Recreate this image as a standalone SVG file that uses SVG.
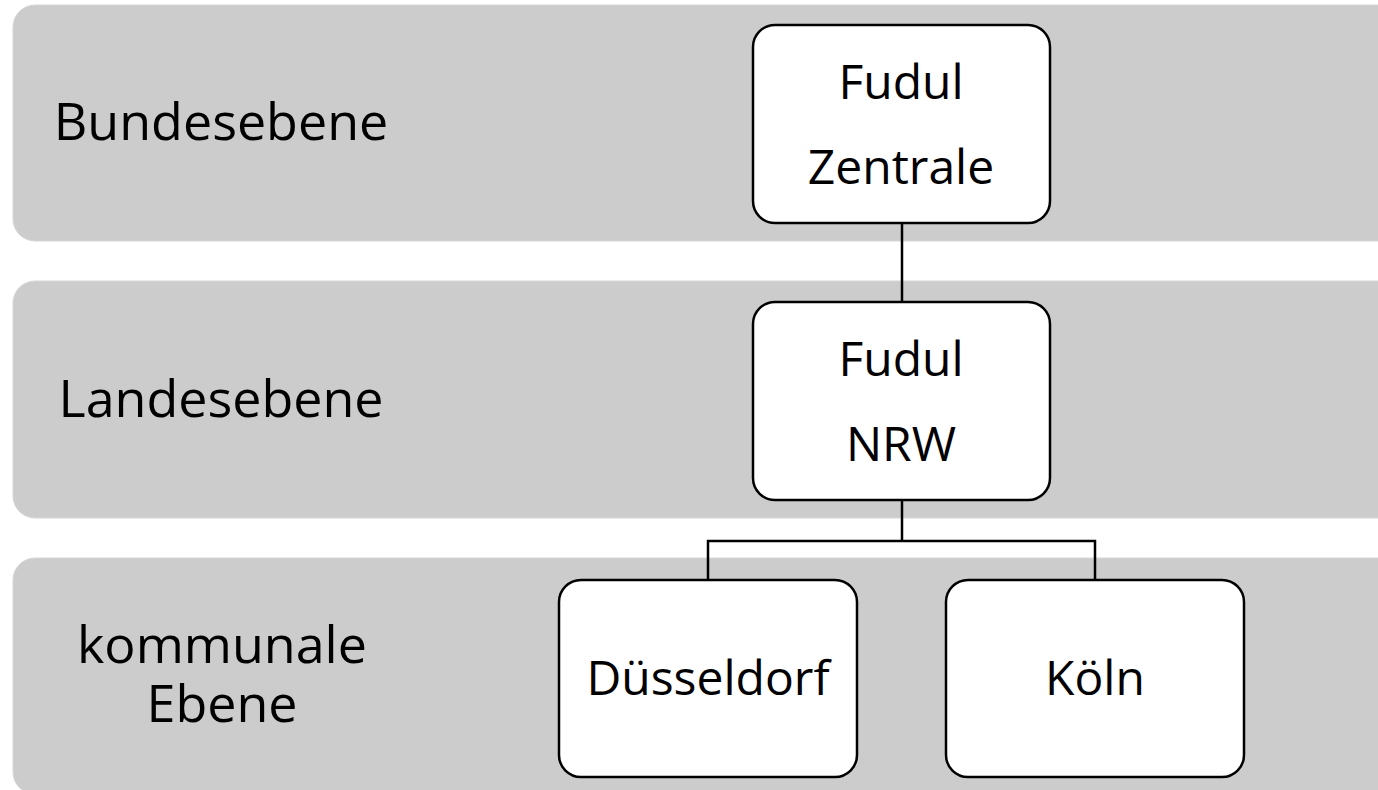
<svg xmlns="http://www.w3.org/2000/svg" width="1378" height="790" viewBox="0 0 1378 790">
<style>
.band{fill:#cccccc;stroke:#d6d6d6;stroke-width:1}
.box{fill:#ffffff;stroke:#000000;stroke-width:2.5}
.t{font-family:"Open Sans","Noto Sans",sans-serif;font-size:52px;fill:#000000;text-anchor:middle}
.n{font-size:48px}
.con{fill:none;stroke:#000000;stroke-width:2.5}
</style>
<rect width="1378" height="790" fill="#ffffff"/>
<g id="band-bund">
<rect class="band" x="13" y="5" width="1400" height="236" rx="22"/>
<text class="t" x="221" y="140">Bundesebene</text>
</g>
<g id="band-land">
<rect class="band" x="13" y="281" width="1400" height="237" rx="22"/>
<text class="t" x="221" y="417">Landesebene</text>
</g>
<g id="band-kommunal">
<rect class="band" x="13" y="558" width="1400" height="236" rx="22"/>
<text class="t" x="222" y="663">kommunale</text>
<text class="t" x="222" y="722">Ebene</text>
</g>
<g id="connectors">
<line class="con" x1="902" y1="223" x2="902" y2="302"/>
<path class="con" d="M902 500 V541 M708 580 V541 H1095 V580"/>
</g>
<g id="node-zentrale">
<rect class="box" x="753" y="25" width="297" height="198" rx="22"/>
<text class="t n" x="901" y="99">Fudul</text>
<text class="t n" x="901" y="184">Zentrale</text>
</g>
<g id="node-nrw">
<rect class="box" x="753" y="302" width="297" height="198" rx="22"/>
<text class="t n" x="901" y="376">Fudul</text>
<text class="t n" x="901" y="461">NRW</text>
</g>
<g id="node-duesseldorf">
<rect class="box" x="559" y="580" width="298" height="197" rx="22"/>
<text class="t n" x="708" y="695">Düsseldorf</text>
</g>
<g id="node-koeln">
<rect class="box" x="946" y="580" width="298" height="197" rx="22"/>
<text class="t n" x="1095" y="695">Köln</text>
</g>
</svg>
